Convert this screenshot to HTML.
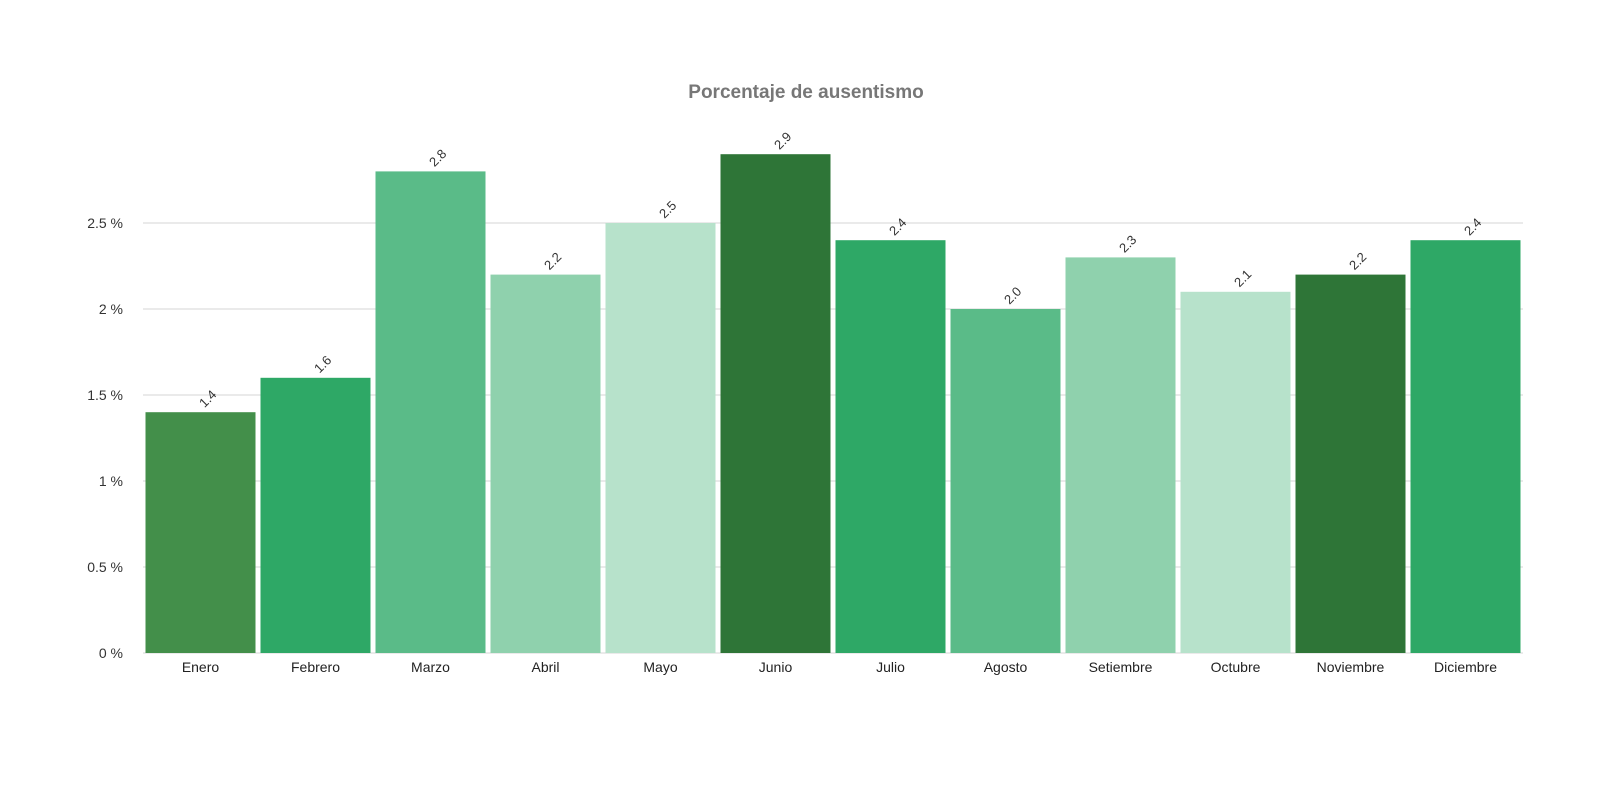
<!DOCTYPE html>
<html><head><meta charset="utf-8"><style>
body{margin:0;background:#fff;width:1600px;height:800px;overflow:hidden}
svg text{font-family:"Liberation Sans",sans-serif}
</style></head><body>
<svg id="chart" width="1600" height="800" xmlns="http://www.w3.org/2000/svg">
<text x="806" y="98" text-anchor="middle" font-size="19" font-weight="bold" fill="#777">Porcentaje de ausentismo</text>
<g id="grid"></g><g id="bars"></g><g id="labels"></g>
</svg>
<script>
const categories=["Enero","Febrero","Marzo","Abril","Mayo","Junio","Julio","Agosto","Setiembre","Octubre","Noviembre","Diciembre"];
const values=[1.4,1.6,2.8,2.2,2.5,2.9,2.4,2.0,2.3,2.1,2.2,2.4];
const yTicks=[0,0.5,1,1.5,2,2.5];
const yTickLabels=["0 %","0.5 %","1 %","1.5 %","2 %","2.5 %"];
const colors=["#438f4a","#2ea866","#5abb88","#8fd1ad","#b7e2cb","#2e7537","#2ea866","#5abb88","#8fd1ad","#b7e2cb","#2e7537","#2ea866"];
const L=143,R=1523,Y0=653,PX=172;
const band=(R-L)/categories.length;
const y=v=>Y0-v*PX;
const ns="http://www.w3.org/2000/svg";
function mk(t,a,p){const e=document.createElementNS(ns,t);for(const k in a)e.setAttribute(k,a[k]);p.appendChild(e);return e;}
const g=document.getElementById('grid'),b=document.getElementById('bars'),lb=document.getElementById('labels');
yTicks.forEach((t,i)=>{
 const l=mk('line',{x1:L,x2:R,y1:y(t),y2:y(t),stroke:'#e3e3e3','stroke-width':1.5},g);
 
 
 const tx=mk('text',{x:123,y:y(t)+5,'text-anchor':'end','font-size':14,fill:'#333'},g);
 tx.textContent=yTickLabels[i];
 
 
});
categories.forEach((c,i)=>{
 const x=L+i*band+2.5,w=band-5;
 const r=mk('rect',{x:x,y:y(values[i]),width:w,height:Y0-y(values[i]),fill:colors[i]},b);
 
 
 const cx=x+w/2;
 const t=mk('text',{x:cx,y:672,'text-anchor':'middle','font-size':14,fill:'#222'},lb);
 t.textContent=c;
 
 
 const v=mk('text',{x:cx+4,y:y(values[i])-4,'font-size':13,fill:'#333',transform:`rotate(-45 ${cx+4} ${y(values[i])-4})`},lb);
 v.textContent=values[i].toFixed(1);
 
 
});
</script>
</body></html>
